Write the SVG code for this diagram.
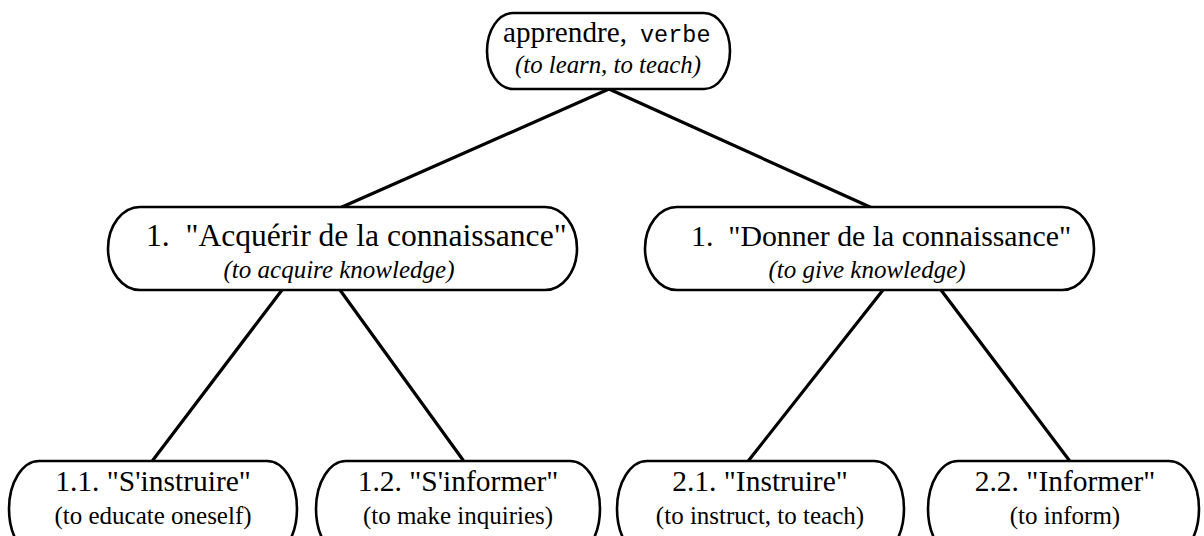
<svg xmlns="http://www.w3.org/2000/svg" width="1204" height="536" viewBox="0 0 1204 536">
<style>
.node{fill:#fff;stroke:#000;stroke-width:2.6}
.edge{stroke:#000;stroke-width:3.2;fill:none;stroke-linecap:round}
.t{font-family:"Liberation Serif","Times New Roman",serif;fill:#000}
.i{font-family:"Liberation Serif","Times New Roman",serif;font-style:italic;fill:#000}
.m{font-family:"Liberation Mono","Courier New",monospace}
</style>
<rect width="1204" height="536" fill="#fff"/>
<g id="connectors">
<line class="edge" x1="609" y1="89" x2="342" y2="207"/>
<line class="edge" x1="609" y1="89" x2="870" y2="207"/>
<line class="edge" x1="282" y1="290" x2="153" y2="460"/>
<line class="edge" x1="340" y1="290" x2="463" y2="460"/>
<line class="edge" x1="883" y1="290" x2="749" y2="460"/>
<line class="edge" x1="941" y1="290" x2="1069" y2="460"/>
</g>
<g id="root">
<path class="node" d="M513 13 H704 A26 38 0 0 1 704 89 H513 A26 38 0 0 1 513 13 Z"/>
<text class="t" x="503" y="42" font-size="29.2">apprendre,<tspan class="m" x="640" font-size="23.5">verbe</tspan></text>
<text class="i" x="608" y="73" font-size="24.8" text-anchor="middle">(to learn, to teach)</text>
</g>
<g id="n1">
<path class="node" d="M140 207 H545 A32 41.5 0 0 1 545 290 H140 A32 41.5 0 0 1 140 207 Z"/>
<text class="t" x="146" y="246" font-size="31.6" xml:space="preserve">1.  "Acquérir de la connaissance"</text>
<text class="i" x="339" y="278" font-size="25" text-anchor="middle">(to acquire knowledge)</text>
</g>
<g id="n2">
<path class="node" d="M677 207 H1062 A32 41.5 0 0 1 1062 290 H677 A32 41.5 0 0 1 677 207 Z"/>
<text class="t" x="691" y="246" font-size="29.8" xml:space="preserve">1.  "Donner de la connaissance"</text>
<text class="i" x="867" y="278" font-size="25" text-anchor="middle">(to give knowledge)</text>
</g>
<g id="n11">
<path class="node" d="M39 461 H267 A30 48 0 0 1 267 557 H39 A30 48 0 0 1 39 461 Z"/>
<text class="t" x="153" y="491" font-size="29.5" text-anchor="middle">1.1. "S'instruire"</text>
<text class="t" x="153" y="524" font-size="25" text-anchor="middle">(to educate oneself)</text>
</g>
<g id="n12">
<path class="node" d="M346 461 H570 A30 48 0 0 1 570 557 H346 A30 48 0 0 1 346 461 Z"/>
<text class="t" x="458" y="491" font-size="29.5" text-anchor="middle">1.2. "S'informer"</text>
<text class="t" x="458" y="524" font-size="25" text-anchor="middle">(to make inquiries)</text>
</g>
<g id="n21">
<path class="node" d="M647 461 H874 A30 48 0 0 1 874 557 H647 A30 48 0 0 1 647 461 Z"/>
<text class="t" x="760" y="491" font-size="29.5" text-anchor="middle">2.1. "Instruire"</text>
<text class="t" x="760" y="524" font-size="25" text-anchor="middle">(to instruct, to teach)</text>
</g>
<g id="n22">
<path class="node" d="M958 461 H1169 A30 48 0 0 1 1169 557 H958 A30 48 0 0 1 958 461 Z"/>
<text class="t" x="1065" y="491" font-size="29.5" text-anchor="middle">2.2. "Informer"</text>
<text class="t" x="1065" y="524" font-size="25" text-anchor="middle">(to inform)</text>
</g>
</svg>
